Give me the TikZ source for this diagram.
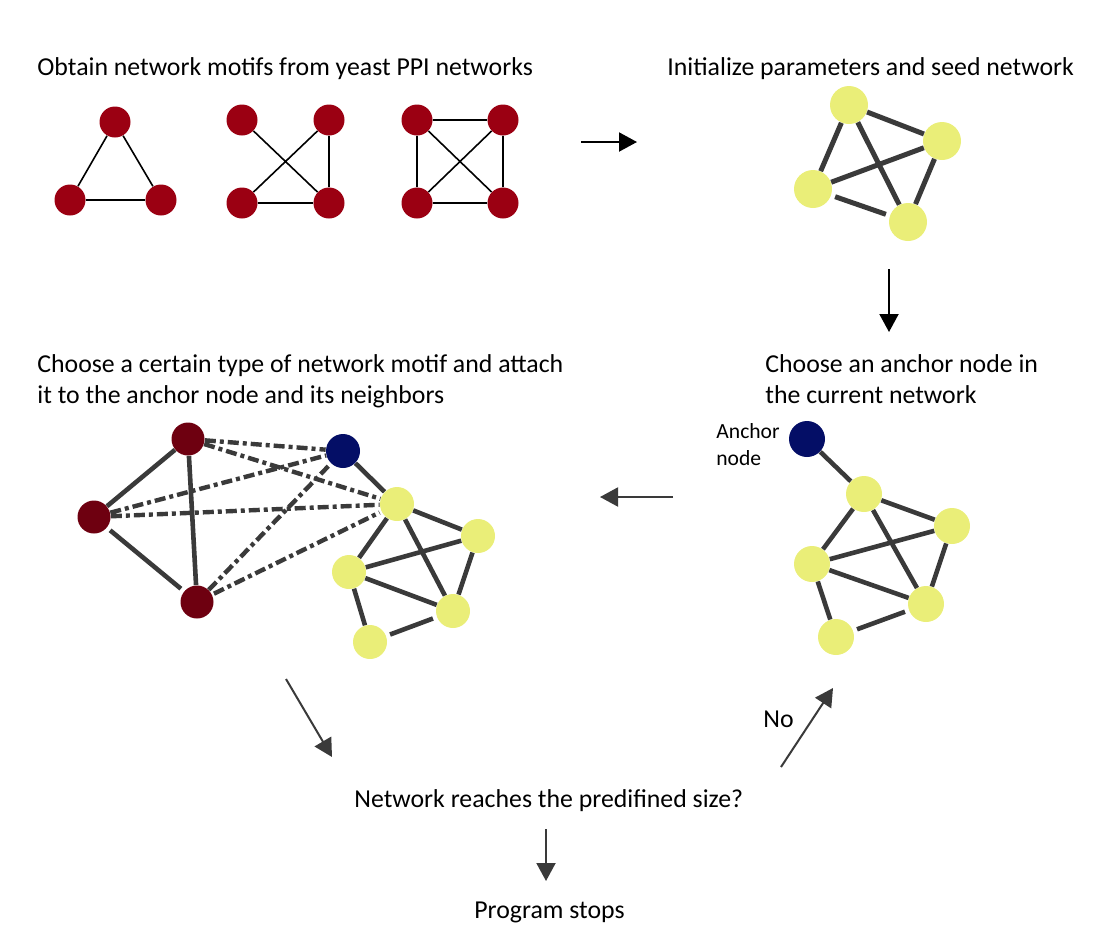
\documentclass[tikz,border=0pt]{standalone}
\usepackage{fontspec}
\setmainfont{Carlito}
\usetikzlibrary{arrows.meta}

\definecolor{motifred}{RGB}{155,0,18}
\definecolor{darkred}{RGB}{110,0,16}
\definecolor{anchorblue}{RGB}{4,14,102}
\definecolor{nodeyellow}{RGB}{234,238,120}
\definecolor{edgegray}{RGB}{58,58,58}

\tikzset{
	txt/.style={anchor=base west, inner sep=0pt, align=left, font=\fontsize{12.9pt}{15.5pt}\selectfont},
	smalltxt/.style={anchor=base west, inner sep=0pt, align=left, font=\fontsize{10.8pt}{13.5pt}\selectfont},
	motif/.style={circle, fill=motifred, inner sep=0pt, minimum size=15.5pt},
	rednode/.style={circle, fill=darkred, inner sep=0pt, minimum size=16.5pt},
	bluenode/.style={circle, fill=anchorblue, inner sep=0pt, minimum size=#1},
	bluenode/.default=17pt,
	yelnode/.style={circle, fill=nodeyellow, inner sep=0pt, minimum size=#1},
	yelnode/.default=17pt,
	motifedge/.style={line width=0.8pt, black},
	netedge/.style={line width=2.3pt, edgegray, shorten <=2pt, shorten >=2pt},
	newedge/.style={line width=2.2pt, edgegray, shorten <=1pt, shorten >=1pt,
		dash pattern=on 5.5pt off 2pt on 2pt off 2pt},
	flow/.style={line width=1pt, -{Triangle[length=9pt,width=9.5pt]}}
}

\begin{document}
\begin{tikzpicture}[x=0.5pt, y=-0.5pt]
		\useasboundingbox (0,0) rectangle (1108,943);

		% texts (base of a two-line text is its last line)
		\node[txt] (tmotif) at (37,75) {Obtain network motifs from yeast PPI networks};
		\node[txt] (tinit) at (667,75) {Initialize parameters and seed network};
		\node[txt] (tattach) at (37,403) {Choose a certain type of network motif and attach\\it to the anchor node and its neighbors};
		\node[txt] (tchoose) at (765,403) {Choose an anchor node in\\the current network};
		\node[smalltxt] (tanchor) at (716,465) {Anchor\\node};
		\node[txt] (tsize) at (354,807) {Network reaches the predifined size?};
		\node[txt] (tstop) at (474,918) {Program stops};
		\node[txt] (tno) at (763,727) {No};

		% three motifs
		\node[motif] (t1) at (115,122) {};
		\node[motif] (t2) at (70,200) {};
		\node[motif] (t3) at (161,200) {};
		\draw[motifedge] (t1) -- (t2) (t1) -- (t3) (t2) -- (t3);

		\node[motif] (m1) at (242,120) {};
		\node[motif] (m2) at (329,120) {};
		\node[motif] (m3) at (242,203) {};
		\node[motif] (m4) at (329,203) {};
		\draw[motifedge] (m1) -- (m4) (m2) -- (m3) (m2) -- (m4) (m3) -- (m4);

		\node[motif] (q1) at (417,120) {};
		\node[motif] (q2) at (503,120) {};
		\node[motif] (q3) at (417,203) {};
		\node[motif] (q4) at (503,203) {};
		\draw[motifedge] (q1) -- (q2) (q1) -- (q3) (q2) -- (q4) (q3) -- (q4) (q1) -- (q4) (q2) -- (q3);

		% seed network
		\node[yelnode=19pt] (s1) at (849,105) {};
		\node[yelnode=19pt] (s2) at (942,141) {};
		\node[yelnode=19pt] (s3) at (813,189) {};
		\node[yelnode=19pt] (s4) at (908,222) {};
		\draw[netedge, line width=2.5pt] (s1) -- (s2) (s1) -- (s3) (s1) -- (s4) (s2) -- (s3) (s2) -- (s4) (s3) -- (s4);

		% current network with anchor node
		\node[bluenode=18pt] (an) at (807,439) {};
		\node[yelnode=18pt] (na) at (864,494) {};
		\node[yelnode=18pt] (nb) at (952,526) {};
		\node[yelnode=18pt] (nc) at (812,564) {};
		\node[yelnode=18pt] (nd) at (926,604) {};
		\node[yelnode=18pt] (ne) at (836,637) {};
		\draw[netedge] (an) -- (na) (na) -- (nb) (na) -- (nc) (na) -- (nd) (nb) -- (nc) (nb) -- (nd) (nc) -- (nd) (nc) -- (ne) (nd) -- (ne);

		% motif attached to the anchor node
		\node[rednode] (r1) at (188,439) {};
		\node[rednode] (r2) at (94,517) {};
		\node[rednode] (r3) at (197,602) {};
		\node[bluenode] (ab) at (343,451) {};
		\node[yelnode] (y1) at (397,504) {};
		\node[yelnode] (y2) at (478,536) {};
		\node[yelnode] (y3) at (349,572) {};
		\node[yelnode] (y4) at (453,611) {};
		\node[yelnode] (y5) at (370,642) {};
		\draw[netedge] (r1) -- (r2) (r1) -- (r3) (r2) -- (r3);
		\draw[newedge] (r1) -- (ab) (r1) -- (y1) (r2) -- (ab) (r2) -- (y1) (r3) -- (ab) (r3) -- (y1);
		\draw[netedge] (ab) -- (y1) (y1) -- (y2) (y1) -- (y3) (y1) -- (y4) (y2) -- (y3) (y2) -- (y4) (y3) -- (y4) (y3) -- (y5) (y4) -- (y5);

		% flow arrows
		\coordinate (f1a) at (581,142);
		\coordinate (f1b) at (637,142);
		\coordinate (f2a) at (889,269);
		\coordinate (f2b) at (889,332);
		\coordinate (f3a) at (673,497);
		\coordinate (f3b) at (600,497);
		\coordinate (f4a) at (286,679);
		\coordinate (f4b) at (332,757);
		\coordinate (f5a) at (781,767);
		\coordinate (f5b) at (833,688);
		\coordinate (f6a) at (546,829);
		\coordinate (f6b) at (546,881);
		\draw[flow] (f1a) -- (f1b);
		\draw[flow] (f2a) -- (f2b);
		\draw[flow, edgegray] (f3a) -- (f3b);
		\draw[flow, edgegray] (f4a) -- (f4b);
		\draw[flow, edgegray] (f5a) -- (f5b);
		\draw[flow, edgegray] (f6a) -- (f6b);
	\end{tikzpicture}
\end{document}
